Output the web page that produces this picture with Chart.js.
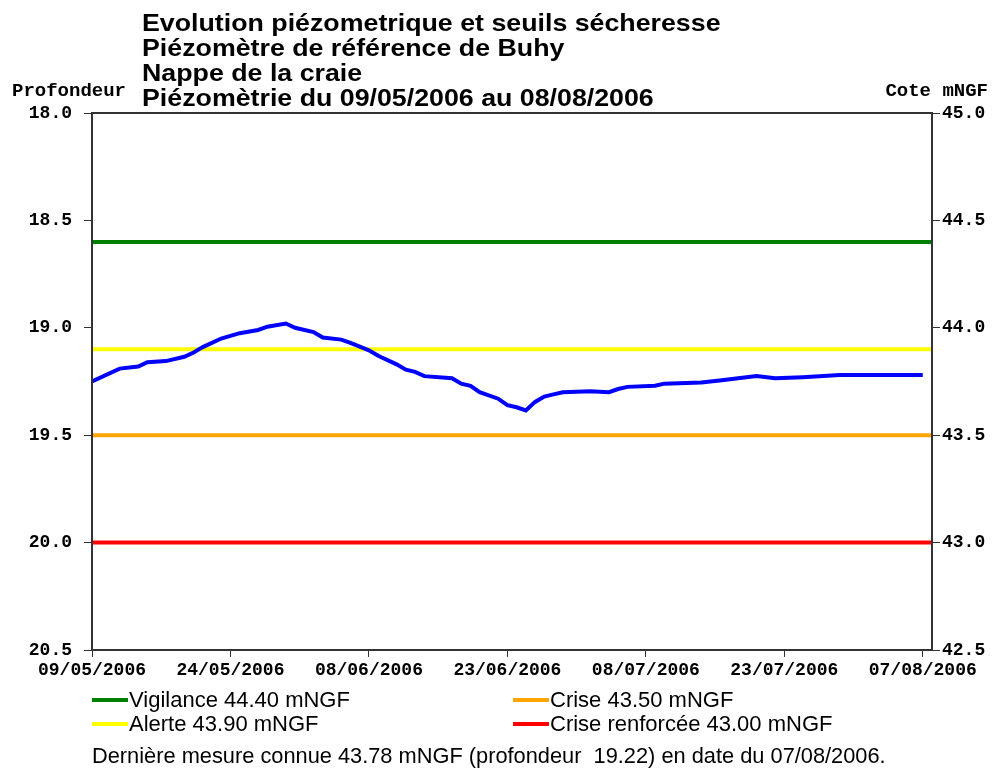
<!DOCTYPE html>
<html>
<head>
<meta charset="utf-8">
<script src="https://cdn.jsdelivr.net/npm/chart.js@4.4.1/dist/chart.umd.min.js"></script>
<style>
  html, body { margin: 0; padding: 0; background: #fff; }
  #wrap { width: 995px; height: 769px; position: relative; }
</style>
</head>
<body>
<div id="wrap"><canvas id="chart"></canvas></div>
<script>
// Titles
const titleLines = [
    'Evolution piézometrique et seuils sécheresse',
    'Piézomètre de référence de Buhy',
    'Nappe de la craie',
    'Piézomètrie du 09/05/2006 au 08/08/2006'
];
const leftAxisTitle = 'Profondeur';
const rightAxisTitle = 'Cote mNGF';

// Period shown
const startDate = '09/05/2006';
const endDate = '08/08/2006';
const xTickDates = ['09/05/2006', '24/05/2006', '08/06/2006', '23/06/2006', '08/07/2006', '23/07/2006', '07/08/2006'];

// Measurements (profondeur, m)
const measureDates = [
    '09/05/2006', '12/05/2006', '14/05/2006', '15/05/2006', '17/05/2006', '19/05/2006', '20/05/2006',
    '21/05/2006', '23/05/2006', '25/05/2006', '27/05/2006', '28/05/2006', '30/05/2006', '31/05/2006',
    '02/06/2006', '03/06/2006', '05/06/2006', '06/06/2006', '08/06/2006', '09/06/2006', '11/06/2006',
    '12/06/2006', '13/06/2006', '14/06/2006', '17/06/2006', '18/06/2006', '19/06/2006', '20/06/2006',
    '22/06/2006', '23/06/2006', '24/06/2006', '25/06/2006', '26/06/2006', '27/06/2006', '28/06/2006',
    '29/06/2006', '02/07/2006', '04/07/2006', '05/07/2006', '06/07/2006', '09/07/2006', '10/07/2006',
    '14/07/2006', '16/07/2006', '18/07/2006', '20/07/2006', '22/07/2006', '25/07/2006', '29/07/2006',
    '07/08/2006'
];
const profondeurs = [
    19.25, 19.19, 19.18, 19.16, 19.155, 19.135, 19.115,
    19.09, 19.05, 19.025, 19.01, 18.995, 18.98, 19.0,
    19.02, 19.045, 19.055, 19.07, 19.105, 19.13, 19.17,
    19.195, 19.205, 19.225, 19.235, 19.26, 19.27, 19.30,
    19.33, 19.36, 19.37, 19.385, 19.345, 19.32, 19.31,
    19.30, 19.295, 19.30, 19.285, 19.275, 19.27, 19.26,
    19.255, 19.245, 19.235, 19.225, 19.235, 19.23, 19.22,
    19.22
];

// Seuils sécheresse (mNGF)
const seuilLabels = ['Vigilance', 'Alerte', 'Crise', 'Crise renforcée'];
const seuilCotes = [44.40, 43.90, 43.50, 43.00];
const seuilColors = ['rgb(0, 128, 0)', 'rgb(255, 255, 0)', 'rgb(255, 165, 0)', 'rgb(255, 0, 0)'];

// Axes
const profTicks = [18.0, 18.5, 19.0, 19.5, 20.0, 20.5];
const coteTicks = [42.5, 43.0, 43.5, 44.0, 44.5, 45.0];
const repere = 63.0; // cote = repere - profondeur

// Dernière mesure
const lastDate = '07/08/2006';
const lastCote = 43.78;
const lastProf = 19.22;

function dayIndex(s) {
    const [d, m, y] = s.split('/').map(Number);
    const [d0, m0, y0] = startDate.split('/').map(Number);
    return Math.round((Date.UTC(y, m - 1, d) - Date.UTC(y0, m0 - 1, d0)) / 86400000);
}

const monoFamily = '"Liberation Mono", "DejaVu Sans Mono", monospace';
const sansFamily = '"Liberation Sans", Arial, sans-serif';
const tickFont = { family: monoFamily, size: 18, weight: 'bold' };
const axisColor = '#333';

const datasets = [{
    label: 'Piézométrie',
    data: measureDates.map((d, i) => ({ x: dayIndex(d), y: profondeurs[i] })),
    borderColor: 'rgb(0, 0, 255)',
    backgroundColor: 'rgb(0, 0, 255)',
    borderWidth: 4,
    pointRadius: 0,
    tension: 0,
    yAxisID: 'y'
}].concat(seuilLabels.map((lab, i) => ({
    label: lab + ' ' + seuilCotes[i].toFixed(2) + ' mNGF',
    data: [
        { x: dayIndex(startDate), y: repere - seuilCotes[i] },
        { x: dayIndex(endDate), y: repere - seuilCotes[i] }
    ],
    borderColor: seuilColors[i],
    backgroundColor: seuilColors[i],
    borderWidth: 4,
    pointRadius: 0,
    tension: 0,
    yAxisID: 'y',
    seuil: true
})));

// Titles, frame, legend and footer
const decorPlugin = {
    id: 'decor',
    afterDatasetsDraw(chart) {
        const ctx = chart.ctx;
        const a = chart.chartArea;
        ctx.save();
        ctx.strokeStyle = axisColor;
        ctx.lineWidth = 2;
        ctx.strokeRect(a.left, a.top, a.right - a.left, a.bottom - a.top);
        ctx.restore();
    },
    afterDraw(chart) {
        const ctx = chart.ctx;
        const a = chart.chartArea;
        ctx.save();
        ctx.fillStyle = '#000';
        ctx.textBaseline = 'alphabetic';

        // title, slightly widened like the original
        ctx.save();
        ctx.translate(142, 0);
        ctx.scale(1.115, 1);
        ctx.font = 'bold 24px ' + sansFamily;
        titleLines.forEach((t, i) => ctx.fillText(t, 0, 31 + i * 25));
        ctx.restore();

        ctx.font = 'bold 19px ' + monoFamily;
        ctx.textAlign = 'left';
        ctx.fillText(leftAxisTitle, 12, 96);
        ctx.textAlign = 'right';
        ctx.fillText(rightAxisTitle, 988, 96);

        // legend, two columns
        ctx.textAlign = 'left';
        ctx.textBaseline = 'middle';
        ctx.font = '22px ' + sansFamily;
        const seuils = chart.data.datasets.filter(d => d.seuil);
        seuils.forEach((ds, i) => {
            const col = Math.floor(i / 2), row = i % 2;
            const x = a.left + col * 421;
            const y = 700 + row * 24;
            ctx.strokeStyle = ds.borderColor;
            ctx.lineWidth = 4;
            ctx.beginPath();
            ctx.moveTo(x, y);
            ctx.lineTo(x + 36, y);
            ctx.stroke();
            ctx.fillText(ds.label, x + 37, y + 1);
        });
        ctx.font = '21.8px ' + sansFamily;
        ctx.fillText('Dernière mesure connue ' + lastCote.toFixed(2) + ' mNGF (profondeur  ' +
            lastProf.toFixed(2) + ') en date du ' + lastDate + '.', a.left, 757);
        ctx.restore();
    }
};

new Chart(document.getElementById('chart'), {
    type: 'line',
    data: { datasets },
    options: {
        responsive: true,
        maintainAspectRatio: false,
        animation: false,
        layout: { padding: { top: 113, bottom: 89, left: 0, right: 0 } },
        scales: {
            x: {
                type: 'linear',
                min: dayIndex(startDate),
                max: dayIndex(endDate),
                afterBuildTicks: (s) => { s.ticks = xTickDates.map(d => ({ value: dayIndex(d) })); },
                afterFit: (s) => { s.height = 30; },
                ticks: {
                    autoSkip: false,
                    maxRotation: 0,
                    padding: 3,
                    color: '#000',
                    font: tickFont,
                    callback: (v) => xTickDates.find(d => dayIndex(d) === v) || ''
                },
                grid: { drawOnChartArea: false, color: axisColor, tickLength: 7, lineWidth: 1 },
                border: { display: false }
            },
            y: {
                type: 'linear',
                position: 'left',
                reverse: true,
                min: 18,
                max: 20.5,
                afterBuildTicks: (s) => { s.ticks = profTicks.map(v => ({ value: v })); },
                afterFit: (s) => { s.width = 92; },
                ticks: {
                    padding: 12,
                    color: '#000',
                    font: tickFont,
                    callback: (v) => v.toFixed(1)
                },
                grid: { drawOnChartArea: false, color: axisColor, tickLength: 8 },
                border: { display: false }
            },
            y2: {
                type: 'linear',
                position: 'right',
                min: 42.5,
                max: 45,
                afterBuildTicks: (s) => { s.ticks = coteTicks.map(v => ({ value: v })); },
                afterFit: (s) => { s.width = 63; },
                ticks: {
                    padding: 2,
                    color: '#000',
                    font: tickFont,
                    callback: (v) => v.toFixed(1)
                },
                grid: { drawOnChartArea: false, color: axisColor, tickLength: 8 },
                border: { display: false }
            }
        },
        plugins: {
            legend: { display: false },
            title: { display: false },
            tooltip: { enabled: false }
        }
    },
    plugins: [decorPlugin]
});
</script>
</body>
</html>
